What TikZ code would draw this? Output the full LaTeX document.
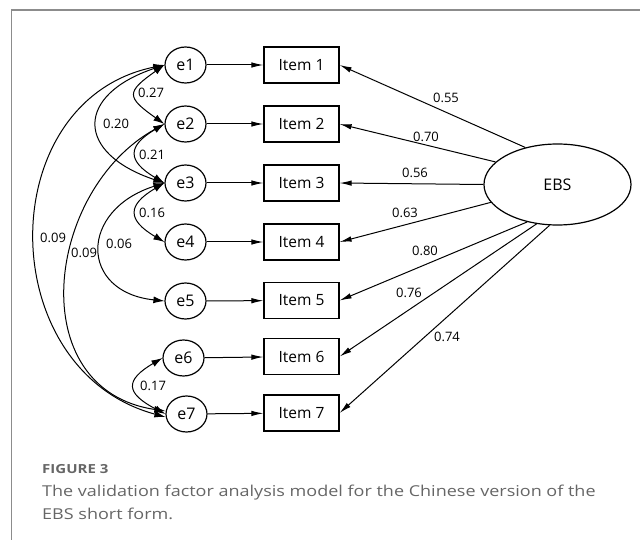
\documentclass[tikz,border=0pt]{standalone}
\usepackage{fontspec}
\setmainfont{Open Sans}
\newfontfamily\capfont[FakeStretch=1.2]{Open Sans}
\usetikzlibrary{shapes.geometric,arrows.meta}
\definecolor{framegray}{HTML}{8C8C8C}
\definecolor{capgray}{HTML}{666666}
\begin{document}
\begin{tikzpicture}[x=1pt,y=-1pt,
  errnode/.style={draw,ellipse,line width=1.2pt,minimum width=41pt,minimum height=36pt,inner sep=0pt,font=\fontsize{16}{19}\selectfont},
  itembox/.style={draw,rectangle,line width=1.2pt,minimum width=75pt,minimum height=36pt,inner sep=0pt,font=\fontsize{15.5}{18}\selectfont},
  factor/.style={draw,ellipse,line width=1.2pt,minimum width=147pt,minimum height=81pt,inner sep=0pt,font=\fontsize{16}{19}\selectfont},
  regline/.style={line width=1pt,-{Latex[length=12pt,width=5.5pt]}},
  covline/.style={line width=1pt,{Latex[length=11pt,width=7pt]}-{Latex[length=11pt,width=7pt]}},
  coef/.style={font=\fontsize{13}{15}\selectfont,inner sep=0pt},
  covlab/.style={coef,anchor=west}
]
\useasboundingbox (0,0) rectangle (640,540);
\fill[white] (0,0) rectangle (640,540);

% panel frame (top and left edges)
\draw[framegray,line width=1.6pt] (11.5,540) -- (11.5,10) -- (640,10);

% error terms
\node[errnode] (e1) at (185.5,65)  {e1};
\node[errnode] (e2) at (185.5,124) {e2};
\node[errnode] (e3) at (185.5,183) {e3};
\node[errnode] (e4) at (185.5,242) {e4};
\node[errnode] (e5) at (185.5,301) {e5};
\node[errnode] (e6) at (183.5,358) {e6};
\node[errnode] (e7) at (186.5,414) {e7};

% observed items
\node[itembox] (i1) at (301.5,65)    {Item 1};
\node[itembox] (i2) at (301.5,124)   {Item 2};
\node[itembox] (i3) at (301.5,183)   {Item 3};
\node[itembox] (i4) at (301.5,242)   {Item 4};
\node[itembox] (i5) at (301.5,300.5) {Item 5};
\node[itembox] (i6) at (301.5,356.5) {Item 6};
\node[itembox] (i7) at (301.5,413)   {Item 7};

% latent factor
\node[factor] (ebs) at (557.5,184.5) {EBS};

% error -> item
\foreach \k in {1,...,7} {\draw[regline] (e\k) -- (i\k);}

% factor loadings
\draw[regline] (ebs.131.7) -- (i1.east);
\draw[regline] (ebs.160.2) -- (i2.east);
\draw[regline] (ebs.180)   -- (i3.east);
\draw[regline] (ebs.195.3) -- (i4.east);
\draw[regline] (ebs.231.6) -- (i5.east);
\draw[regline] (ebs.242.6) -- (i6.east);
\draw[regline] (ebs.259.8) -- (i7.east);

\node[coef] (l1) at (446,98)  {0.55};
\node[coef] (l2) at (426,137) {0.70};
\node[coef] (l3) at (415,173) {0.56};
\node[coef] (l4) at (405,213) {0.63};
\node[coef] (l5) at (425,251) {0.80};
\node[coef] (l6) at (409,293) {0.76};
\node[coef] (l7) at (447,337) {0.74};

% error covariances
\coordinate (e7a) at ([yshift=-3pt]e7.west);
\coordinate (e7b) at ([yshift=3pt]e7.west);
\draw[covline] (e1.west) .. controls (126,92)  and (126,97)  .. (e2.west);
\draw[covline] (e2.west) .. controls (127,146) and (127,161) .. (e3.west);
\draw[covline] (e3.west) .. controls (127,205) and (127,220) .. (e4.west);
\draw[covline] (e1.west) .. controls (75,95)   and (75,153)  .. (e3.west);
\draw[covline] (e3.west) .. controls (79,210)  and (79,292)  .. (e5.west);
\draw[covline] (e2.west) .. controls (45,190)  and (22,390)  .. (e7b);
\draw[covline] (e1.west) .. controls (-8,100)  and (-8,370)  .. (e7a);
\draw[covline] (e6.west) .. controls (125,380) and (125,393) .. (e7.west);

\node[covlab] (c12) at (138,93)  {0.27};
\node[covlab] (c23) at (139,155) {0.21};
\node[covlab] (c34) at (139,213) {0.16};
\node[covlab] (c13) at (103,124) {0.20};
\node[covlab] (c17) at (40,238)  {0.09};
\node[covlab] (c27) at (71,253)  {0.09};
\node[covlab] (c35) at (106,244) {0.06};
\node[covlab] (c67) at (140,386) {0.17};

% caption
\node[anchor=base west,inner sep=0pt,text=capgray,font=\capfont\fontsize{12.5}{15}\selectfont\bfseries] (fig) at (42,473) {FIGURE 3};
\node[anchor=base west,inner sep=0pt,text=capgray,font=\capfont\fontsize{15}{18}\selectfont] (cap1) at (42,496) {The validation factor analysis model for the Chinese version of the};
\node[anchor=base west,inner sep=0pt,text=capgray,font=\capfont\fontsize{15}{18}\selectfont] (cap2) at (42,519) {EBS short form.};
\end{tikzpicture}
\end{document}
